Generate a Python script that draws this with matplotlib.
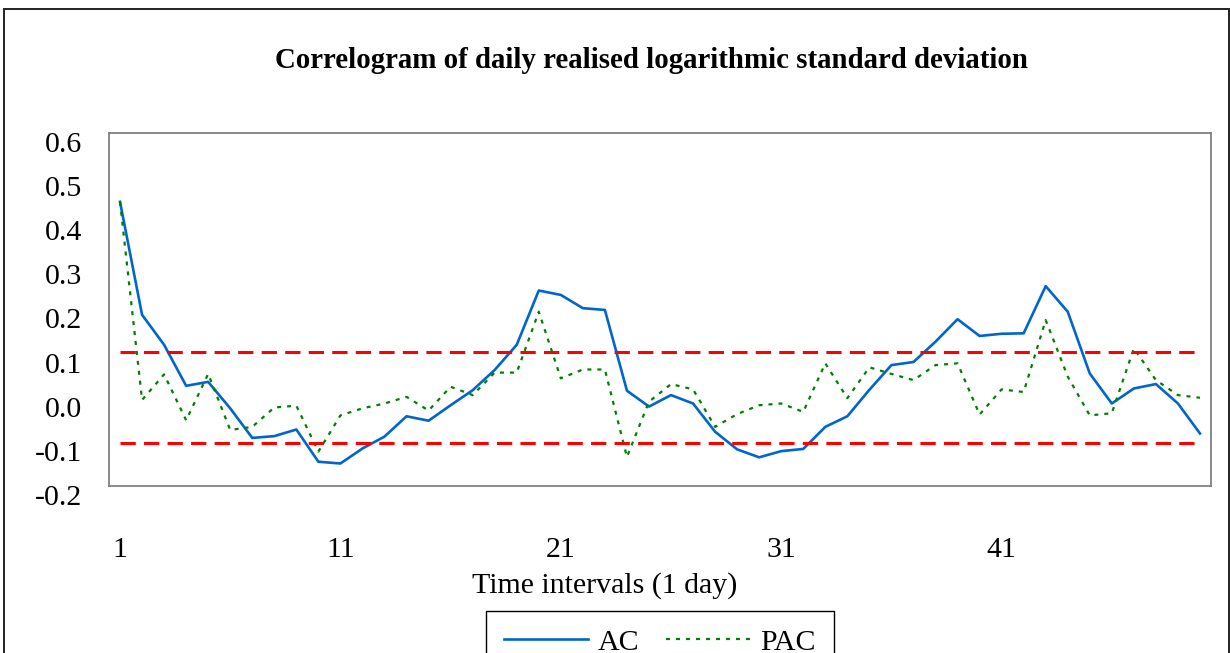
import numpy as np
import matplotlib
matplotlib.use("Agg")
import matplotlib.pyplot as plt
import matplotlib.transforms as mtransforms
from matplotlib.patches import Rectangle

lags = list(range(1, 51))
ac = [0.444, 0.188, 0.120, 0.027, 0.036, -0.024, -0.091, -0.087, -0.072, -0.145,
      -0.149, -0.115, -0.088, -0.042, -0.052, -0.017, 0.017, 0.063, 0.120, 0.243,
      0.233, 0.203, 0.199, 0.016, -0.020, 0.006, -0.013, -0.077, -0.117, -0.135,
      -0.121, -0.116, -0.066, -0.042, 0.018, 0.074, 0.081, 0.127, 0.178, 0.140,
      0.145, 0.146, 0.253, 0.195, 0.055, -0.013, 0.021, 0.031, -0.013, -0.081]
pac = [0.444, -0.005, 0.053, -0.051, 0.054, -0.073, -0.066, -0.022, -0.018, -0.122,
       -0.040, -0.024, -0.013, 0.002, -0.029, 0.025, 0.006, 0.057, 0.057, 0.195,
       0.044, 0.064, 0.064, -0.134, -0.009, 0.031, 0.019, -0.066, -0.037, -0.017,
       -0.013, -0.032, 0.078, -0.001, 0.069, 0.054, 0.040, 0.074, 0.078, -0.038,
       0.019, 0.013, 0.176, 0.048, -0.040, -0.035, 0.112, 0.040, 0.006, 0.000]
banda = 0.103  # limite de confianza
xticks = [1, 11, 21, 31, 41]
yticks = [-0.2, -0.1, 0.0, 0.1, 0.2, 0.3, 0.4, 0.5, 0.6]

W, H = 1230, 653
plt.rcParams["font.family"] = ["Liberation Serif", "DejaVu Serif"]

fig = plt.figure(figsize=(W / 100, H / 100), dpi=100)

# marco exterior del grafico
fig.patches.append(Rectangle((4 / W, -0.1), (1229 - 4) / W, 1.1 - 9 / H,
                             transform=fig.transFigure, fill=False,
                             edgecolor="#222222", linewidth=1.4))

ax = fig.add_axes([109 / W, 1 - 486 / H, (1211 - 109) / W, (486 - 133) / H])

ax.plot(lags, ac, color="#0066cc", linewidth=1.9, label="AC")
ax.plot(lags, pac, color="#008000", linewidth=1.6, linestyle=(0, (1.8, 2.7)),
        label="PAC")
ax.hlines([banda, -banda], lags[0], lags[-1], colors="#ff0000",
          linewidth=2.2, linestyles=[(0, (5, 2.7))])

ax.set_xlim(0.5, 50.5)
ax.set_ylim(-0.2, 0.6)
ax.set_xticks(xticks)
ax.set_xticklabels([str(t) for t in xticks])
ax.set_yticks(yticks)
ax.set_yticklabels([f"{t:.1f}" for t in yticks])
ax.tick_params(axis="both", length=0, labelsize=21.5)
ax.tick_params(axis="x", pad=37)
ax.tick_params(axis="y", pad=19)

# las etiquetas del eje y aparecen un poco desplazadas hacia abajo
offset = mtransforms.ScaledTranslation(0, -9 / 100, fig.dpi_scale_trans)
for lbl in ax.get_yticklabels():
    lbl.set_transform(lbl.get_transform() + offset)

for s in ax.spines.values():
    s.set_color("#808080")
    s.set_linewidth(1.3)

fig.text(652 / W, 1 - 61 / H,
         "Correlogram of daily realised logarithmic standard deviation",
         ha="center", va="center", fontsize=20.8, fontweight="bold")
fig.text(605 / W, 1 - 586 / H, "Time intervals (1 day)",
         ha="center", va="center", fontsize=21.5)

leg = ax.legend(loc="upper left", bbox_to_anchor=(486 / W, 1 - 611 / H),
                bbox_transform=fig.transFigure, ncol=2, fontsize=21.5,
                frameon=True, fancybox=False, framealpha=1, borderaxespad=0,
                handlelength=2.8, columnspacing=0.9, handletextpad=0.35,
                borderpad=0.6)
leg.get_frame().set_edgecolor("#000000")
leg.get_frame().set_linewidth(1.0)

fig.savefig("out.png", dpi=100)
